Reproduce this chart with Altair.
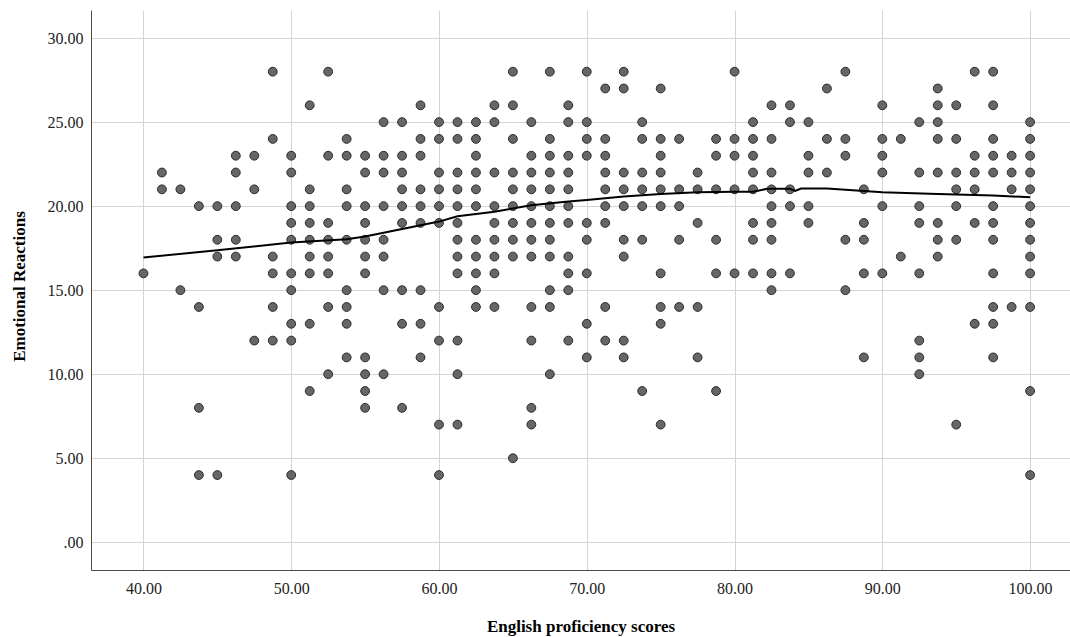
import altair as alt
import pandas as pd

# English proficiency score levels (x) and the Emotional Reactions scores observed at each level
score_levels = [
    40, 41.25, 42.5, 43.75, 45, 46.25, 47.5, 48.75, 50, 51.25,
    52.5, 53.75, 55, 56.25, 57.5, 58.75, 60, 61.25, 62.5, 63.75,
    65, 66.25, 67.5, 68.75, 70, 71.25, 72.5, 73.75, 75, 76.25,
    77.5, 78.75, 80, 81.25, 82.5, 83.75, 85, 86.25, 87.5, 88.75,
    90, 91.25, 92.5, 93.75, 95, 96.25, 97.5, 98.75, 100,
]
reactions_at_level = [
    [16],
    [22, 21],
    [21, 15],
    [20, 14, 8, 4],
    [20, 18, 17, 4],
    [23, 22, 20, 18, 17],
    [23, 21, 12],
    [28, 24, 17, 16, 14, 12],
    [23, 22, 20, 19, 18, 16, 15, 13, 12, 4],
    [26, 21, 20, 19, 18, 17, 16, 13, 9],
    [28, 23, 19, 18, 17, 16, 14, 10],
    [24, 23, 21, 20, 18, 15, 14, 13, 11],
    [23, 22, 20, 19, 18, 17, 16, 11, 10, 9, 8],
    [25, 23, 22, 20, 18, 17, 15, 10],
    [25, 23, 22, 21, 20, 19, 15, 13, 8],
    [26, 24, 23, 21, 20, 19, 15, 13, 11],
    [25, 24, 22, 21, 20, 19, 14, 12, 7, 4],
    [25, 24, 22, 21, 20, 19, 18, 17, 16, 12, 10, 7],
    [25, 24, 23, 22, 21, 20, 18, 17, 16, 15, 14],
    [26, 25, 22, 20, 19, 18, 17, 16, 14],
    [28, 26, 24, 22, 21, 20, 19, 18, 17, 5],
    [25, 23, 22, 21, 20, 19, 18, 17, 14, 12, 8, 7],
    [28, 24, 23, 22, 21, 20, 19, 18, 17, 15, 14, 10],
    [26, 25, 23, 22, 21, 20, 19, 17, 16, 15, 12],
    [28, 25, 24, 23, 19, 18, 16, 13, 11],
    [27, 24, 23, 22, 21, 20, 19, 14, 12],
    [28, 27, 22, 21, 20, 18, 17, 12, 11],
    [25, 24, 22, 21, 20, 18, 9],
    [27, 24, 23, 22, 21, 20, 16, 14, 13, 7],
    [24, 21, 20, 18, 14],
    [22, 21, 19, 14, 11],
    [24, 23, 21, 18, 16, 9],
    [28, 24, 23, 21, 16],
    [25, 24, 23, 22, 21, 19, 18, 16],
    [26, 24, 22, 21, 20, 19, 18, 16, 15],
    [26, 25, 21, 20, 16],
    [25, 23, 22, 20, 19],
    [27, 24, 22],
    [28, 24, 23, 18, 15],
    [21, 19, 18, 16, 11],
    [26, 24, 23, 22, 20, 16],
    [24, 17],
    [25, 22, 20, 19, 16, 12, 11, 10],
    [27, 26, 25, 24, 22, 19, 18, 17],
    [26, 24, 22, 21, 20, 18, 7],
    [28, 23, 22, 21, 19, 13],
    [28, 26, 24, 23, 22, 20, 19, 18, 16, 14, 13, 11],
    [23, 22, 21, 14],
    [25, 24, 23, 22, 21, 20, 19, 18, 17, 16, 14, 9, 4],
]

# Smoothed (loess) fit line
fit_scores = [40, 45, 50, 53.75, 55, 57.5, 60, 61.25, 63.75, 66.25, 68.75, 70,
              72.5, 75, 77.5, 80, 81.25, 82.2, 83.75, 84.1, 84.5, 86.25, 88.75,
              90, 93.75, 97.5, 100]
fit_reactions = [16.94, 17.38, 17.83, 18.03, 18.19, 18.64, 19.08, 19.40, 19.67,
                 20.05, 20.27, 20.37, 20.57, 20.72, 20.82, 20.86, 20.86, 21.03,
                 21.03, 20.90, 21.05, 21.05, 20.90, 20.82, 20.72, 20.63, 20.53]

x_ticks = [40, 50, 60, 70, 80, 90, 100]
y_ticks = [0, 5, 10, 15, 20, 25, 30]

points_df = pd.DataFrame(
    [{"score": s, "reaction": r} for s, ys in zip(score_levels, reactions_at_level) for r in ys]
)
fit_df = pd.DataFrame({"score": fit_scores, "reaction": fit_reactions})

x_scale = alt.Scale(domain=[36.45, 102.7], nice=False, zero=False)
y_scale = alt.Scale(domain=[-1.65, 31.67], nice=False, zero=False)

x_axis = alt.Axis(
    values=x_ticks,
    format=".2f",
    title="English proficiency scores",
    titleY=61,
    titleBaseline="alphabetic",
    labelPadding=10,
)
y_axis = alt.Axis(
    values=y_ticks,
    labelExpr="datum.value == 0 ? '.00' : format(datum.value, '.2f')",
    title="Emotional Reactions",
    titleX=-72,
    titleY=276,
    titleAlign="center",
    titleBaseline="middle",
    labelPadding=8,
)

points = alt.Chart(points_df).mark_point(
    shape="circle",
    filled=True,
    fill="#666666",
    stroke="#2b2b2b",
    strokeWidth=1,
    size=78,
    opacity=1,
    fillOpacity=1,
).encode(
    x=alt.X("score:Q", scale=x_scale, axis=x_axis),
    y=alt.Y("reaction:Q", scale=y_scale, axis=y_axis),
)

fit = alt.Chart(fit_df).mark_line(color="black", strokeWidth=2).encode(
    x=alt.X("score:Q", scale=x_scale),
    y=alt.Y("reaction:Q", scale=y_scale),
)

chart = (
    alt.layer(points, fit)
    .properties(
        width=979,
        height=560,
        autosize=alt.AutoSizeParams(type="none"),
        padding={"left": 91, "top": 10, "right": 0, "bottom": 67},
        background="white",
    )
    .configure_view(stroke="transparent")
    .configure_axis(
        grid=True,
        gridColor="#d4d4d4",
        gridWidth=1,
        ticks=False,
        domainColor="#4a4a4a",
        domainWidth=1,
        labelFont="Liberation Serif",
        labelFontSize=16,
        labelColor="#222222",
        titleFont="Liberation Serif",
        titleFontSize=17,
        titleFontWeight="bold",
        titleColor="black",
    )
)

chart.save("out.html", embed_options={"renderer": "svg", "actions": False})
